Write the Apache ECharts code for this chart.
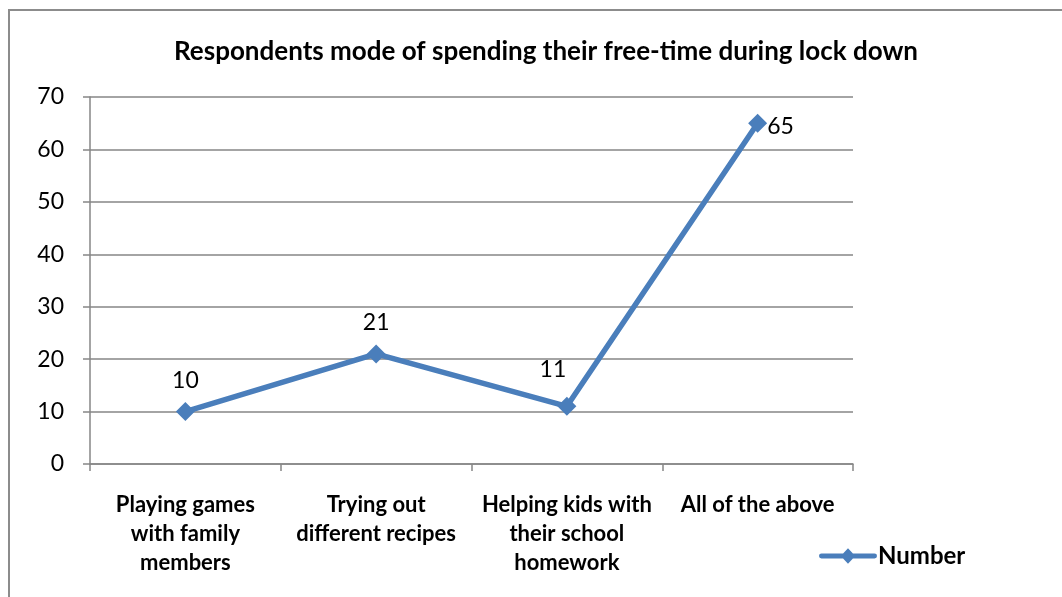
<!DOCTYPE html>
<html>
<head>
<meta charset="utf-8">
<style>
  html, body { margin: 0; padding: 0; background: #fff; }
  #chart { width: 1062px; height: 597px; }
</style>
<script src="https://cdn.jsdelivr.net/npm/echarts@6/dist/echarts.min.js"></script>
</head>
<body>
<div id="chart"></div>
<script>
const categories = [
  'Playing games\nwith family\nmembers',
  'Trying out\ndifferent recipes',
  'Helping kids with\ntheir school\nhomework',
  'All of the above'
];
const numberValues = [10, 21, 11, 65];
const yTicks = { min: 0, max: 70, interval: 10 };

const FONT = 'Lato, "Open Sans", sans-serif';
const LINE_COLOR = '#4a7ebb';

// per-point label placement
const labelPlacement = [
  { position: 'top', distance: 10 },
  { position: 'top', distance: 10 },
  { position: 'top', distance: 16, offset: [-14, 0] },
  { position: 'right', distance: 0, offset: [0, 3] }
];

const chart = echarts.init(document.getElementById('chart'));
chart.setOption({
  backgroundColor: '#fff',
  animation: false,
  title: {
    text: 'Respondents mode of spending their free-time during lock down',
    left: 541,
    textAlign: 'center',
    top: 34,
    textStyle: { fontFamily: FONT, fontWeight: 'bold', fontSize: 26, color: '#000' }
  },
  graphic: [{
    type: 'rect',
    shape: { x: 9, y: 10, width: 1100, height: 650 },
    style: { fill: 'none', stroke: '#8c8c8c', lineWidth: 2 },
    silent: true, z: -1
  }],
  legend: {
    left: 814,
    top: 539,
    itemWidth: 58,
    itemHeight: 16,
    itemGap: 0,
    textStyle: { fontFamily: FONT, fontWeight: 'bold', fontSize: 24, color: '#000', padding: [0, 0, 0, -4] },
    data: [{ name: 'Number', icon: 'path://M2,5.5 L24,5.5 L29,0 L34,5.5 L56,5.5 A2.5,2.5 0 0 1 56,10.5 L34,10.5 L29,16 L24,10.5 L2,10.5 A2.5,2.5 0 0 1 2,5.5 Z' }]
  },
  grid: { left: 90, right: 209, top: 97, bottom: 133, containLabel: false },
  xAxis: {
    type: 'category',
    data: categories,
    boundaryGap: true,
    axisLine: { lineStyle: { color: '#868686', width: 1.5 } },
    axisTick: { show: true, length: 7, lineStyle: { color: '#868686', width: 1.5 } },
    axisLabel: {
      interval: 0, margin: 26, fontFamily: FONT, fontWeight: 'bold',
      fontSize: 22, color: '#000', lineHeight: 29
    },
    splitLine: { show: false }
  },
  yAxis: {
    type: 'value',
    min: yTicks.min, max: yTicks.max, interval: yTicks.interval,
    axisLine: { show: true, lineStyle: { color: '#868686', width: 1.5 } },
    axisTick: { show: true, length: 7, lineStyle: { color: '#868686', width: 1.5 } },
    axisLabel: { margin: 26, fontFamily: FONT, fontSize: 23, color: '#000' },
    splitLine: { lineStyle: { color: '#868686', width: 1.5 } }
  },
  series: [{
    name: 'Number',
    type: 'line',
    data: numberValues.map((v, i) => ({
      value: v,
      label: Object.assign({ show: true }, labelPlacement[i])
    })),
    symbol: 'diamond',
    symbolSize: 19,
    lineStyle: { color: LINE_COLOR, width: 5.5 },
    itemStyle: { color: LINE_COLOR },
    label: { show: true, fontFamily: FONT, fontSize: 23, color: '#000' }
  }]
});
</script>
</body>
</html>
